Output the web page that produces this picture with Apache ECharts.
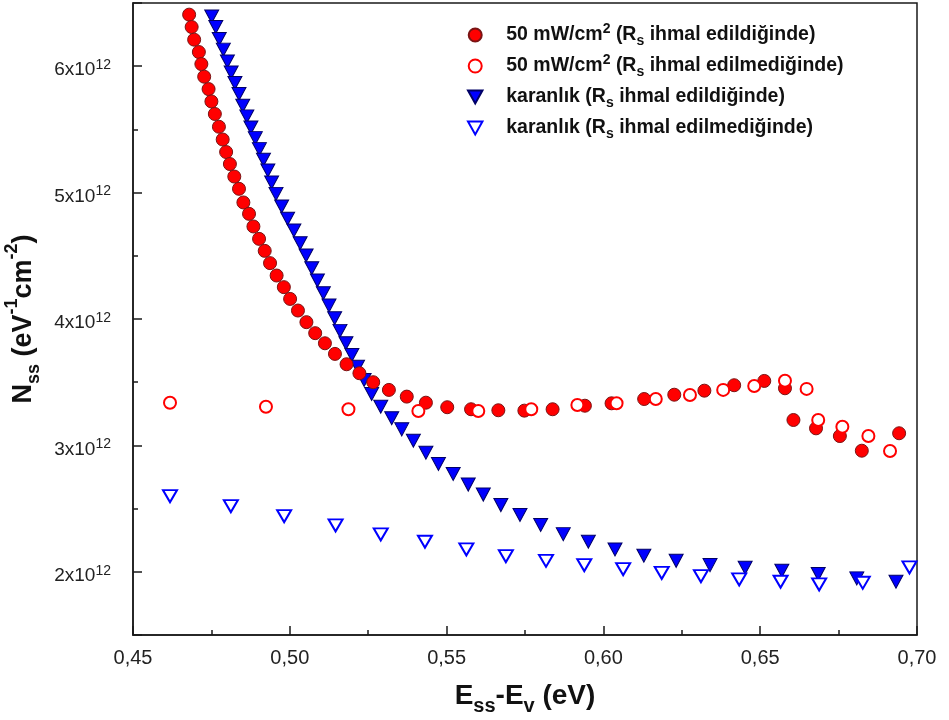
<!DOCTYPE html>
<html>
<head>
<meta charset="utf-8">
<script src="https://cdn.jsdelivr.net/npm/echarts@6/dist/echarts.min.js"></script>
<style>
  html, body { margin: 0; padding: 0; background: #fff; }
  #chart { width: 949px; height: 720px; }
</style>
</head>
<body>
<div id="chart"></div>
<script>
// Interface state density N_ss (units of 10^12 eV^-1 cm^-2) against E_ss - E_v (eV)

// 50 mW/cm2, Rs neglected
const lightRsIgnoredE = [0.4679, 0.4687, 0.4695, 0.4710, 0.4718, 0.4727, 0.4741, 0.4750, 0.4761, 0.4774,
  0.4786, 0.4797, 0.4809, 0.4823, 0.4838, 0.4852, 0.4870, 0.4884, 0.4902, 0.4920,
  0.4937, 0.4958, 0.4981, 0.5001, 0.5026, 0.5053, 0.5081, 0.5112, 0.5144, 0.5181,
  0.5222, 0.5266, 0.5316, 0.5373, 0.5434, 0.5502, 0.5578, 0.5665, 0.5748, 0.5838,
  0.5941, 0.6026, 0.6130, 0.6226, 0.6322, 0.6417, 0.6513, 0.6579, 0.6606, 0.6678,
  0.6754, 0.6824, 0.6943];
const lightRsIgnoredN = [6.408, 6.310, 6.210, 6.112, 6.017, 5.917, 5.819, 5.721, 5.622, 5.521,
  5.420, 5.321, 5.226, 5.127, 5.030, 4.922, 4.832, 4.732, 4.634, 4.539,
  4.442, 4.344, 4.252, 4.159, 4.067, 3.975, 3.888, 3.808, 3.724, 3.642,
  3.571, 3.500, 3.439, 3.386, 3.338, 3.302, 3.286, 3.278, 3.275, 3.286,
  3.314, 3.333, 3.367, 3.401, 3.433, 3.476, 3.510, 3.452, 3.201, 3.135,
  3.074, 2.958, 3.096];

// 50 mW/cm2, Rs taken into account
const lightRsIncludedE = [0.4618, 0.4924, 0.5187, 0.5410, 0.5601, 0.5770, 0.5917, 0.6042, 0.6167,
  0.6276, 0.6382, 0.6481, 0.6579, 0.6648, 0.6685, 0.6762, 0.6845, 0.6914];
const lightRsIncludedN = [3.338, 3.306, 3.286, 3.272, 3.272, 3.286, 3.320, 3.333, 3.367,
  3.399, 3.439, 3.470, 3.512, 3.447, 3.201, 3.148, 3.074, 2.956];

// dark, Rs neglected
const darkRsIgnoredE = [0.4751, 0.4764, 0.4775, 0.4788, 0.4801, 0.4813, 0.4825, 0.4838, 0.4850, 0.4863,
  0.4876, 0.4890, 0.4903, 0.4916, 0.4930, 0.4942, 0.4956, 0.4974, 0.4993, 0.5013,
  0.5033, 0.5052, 0.5070, 0.5088, 0.5107, 0.5125, 0.5143, 0.5160, 0.5179, 0.5198,
  0.5216, 0.5237, 0.5261, 0.5290, 0.5325, 0.5357, 0.5394, 0.5434, 0.5474, 0.5521,
  0.5569, 0.5617, 0.5673, 0.5734, 0.5800, 0.5872, 0.5952, 0.6037, 0.6129, 0.6232,
  0.6340, 0.6452, 0.6569, 0.6685, 0.6808, 0.6933];
const darkRsIgnoredN = [6.394, 6.310, 6.215, 6.131, 6.038, 5.951, 5.867, 5.780, 5.687, 5.603,
  5.515, 5.431, 5.344, 5.260, 5.175, 5.080, 4.990, 4.890, 4.793, 4.700,
  4.600, 4.502, 4.402, 4.304, 4.204, 4.106, 4.006, 3.906, 3.808, 3.716,
  3.623, 3.518, 3.407, 3.306, 3.215, 3.127, 3.037, 2.942, 2.853, 2.774,
  2.690, 2.611, 2.528, 2.449, 2.370, 2.298, 2.238, 2.177, 2.127, 2.087,
  2.053, 2.032, 2.008, 1.982, 1.948, 1.921];

// dark, Rs taken into account
const darkRsIncludedE = [0.4618, 0.4812, 0.4982, 0.5146, 0.5290, 0.5431, 0.5563, 0.5689, 0.5817,
  0.5939, 0.6063, 0.6186, 0.6311, 0.6433, 0.6565, 0.6688, 0.6827, 0.6976];
const darkRsIncludedN = [2.599, 2.520, 2.441, 2.367, 2.296, 2.238, 2.177, 2.124, 2.087,
  2.053, 2.021, 1.992, 1.966, 1.940, 1.921, 1.900, 1.913, 2.035];

const seriesNames = [
  '50 mW/cm2 (Rs ihmal edildiğinde)',
  '50 mW/cm2 (Rs ihmal edilmediğinde)',
  'karanlık (Rs ihmal edildiğinde)',
  'karanlık (Rs ihmal edilmediğinde)'
];
const legendRich = {};
legendRich[seriesNames[0]] = '{b|50 mW/cm}{sup|2}{b| (R}{sub|s}{b| ihmal edildiğinde)}';
legendRich[seriesNames[1]] = '{b|50 mW/cm}{sup|2}{b| (R}{sub|s}{b| ihmal edilmediğinde)}';
legendRich[seriesNames[2]] = '{b|karanlık (R}{sub|s}{b| ihmal edildiğinde)}';
legendRich[seriesNames[3]] = '{b|karanlık (R}{sub|s}{b| ihmal edilmediğinde)}';

const FONT = '"Liberation Sans", Arial, Helvetica, sans-serif';
const DOWN_TRIANGLE = 'path://M0,0L20,0L10,18Z';
const INK = '#111111';

function zip(xs, ys) {
  return xs.map(function (x, i) { return [x, ys[i]]; });
}

// rich-text fragment helpers: base text plus raised / lowered small text
function baseStyle(size, lineH, bold) {
  return { fontSize: size, fontWeight: bold ? 'bold' : 'normal', fontFamily: FONT, color: INK, lineHeight: lineH };
}
function supStyle(size, lineH, bold) {
  return { fontSize: size, fontWeight: bold ? 'bold' : 'normal', fontFamily: FONT, color: INK,
    lineHeight: size, padding: [0, 0, lineH - size, 0] };
}
function subStyle(size, lineH, bold) {
  return { fontSize: size, fontWeight: bold ? 'bold' : 'normal', fontFamily: FONT, color: INK,
    lineHeight: size, padding: [lineH - size, 0, 0, 0] };
}

const chart = echarts.init(document.getElementById('chart'), null, { renderer: 'canvas' });

const option = {
  animation: false,
  backgroundColor: '#ffffff',
  grid: {
    left: 133, right: 32, top: 3, bottom: 85,
    outerBoundsMode: 'none',
    containLabel: false,
    show: true, borderColor: '#1a1a1a', borderWidth: 1.5, backgroundColor: 'transparent'
  },
  legend: {
    orient: 'vertical',
    left: 467, top: 22,
    padding: 0,
    itemGap: 5,
    itemWidth: 52, itemHeight: 13,
    data: seriesNames,
    formatter: function (name) { return legendRich[name]; },
    textStyle: {
      fontFamily: FONT,
      color: INK,
      rich: {
        b: baseStyle(19.5, 26, true),
        sup: supStyle(14, 26, true),
        sub: subStyle(14, 26, true)
      }
    }
  },
  xAxis: {
    type: 'value',
    min: 0.45, max: 0.70, interval: 0.05,
    name: '{b|E}{sub|ss}{b|-E}{sub|v}{b| (eV)}',
    nameLocation: 'middle',
    nameGap: 41,
    nameTextStyle: {
      fontFamily: FONT,
      rich: {
        b: baseStyle(28, 40, true),
        sub: subStyle(20, 40, true)
      }
    },
    axisLine: { show: true, onZero: false, lineStyle: { color: '#1a1a1a', width: 1.5 } },
    axisTick: { show: true, inside: true, length: 9, lineStyle: { color: '#1a1a1a', width: 1.5 } },
    minorTick: { show: true, splitNumber: 2, length: 5, lineStyle: { color: '#1a1a1a', width: 1.5 } },
    splitLine: { show: false },
    axisLabel: {
      margin: 13,
      fontSize: 20,
      fontFamily: FONT,
      color: '#222',
      formatter: function (v) { return v.toFixed(2).replace('.', ','); }
    }
  },
  yAxis: {
    type: 'value',
    min: 1.5, max: 6.5, splitNumber: 5,
    name: '{b|N}{sub|ss}{b| (eV}{sup|-1}{b|cm}{sup|-2}{b|)}',
    nameLocation: 'middle',
    nameRotate: 90,
    nameGap: 88,
    nameTextStyle: {
      fontFamily: FONT,
      rich: {
        b: baseStyle(27, 40, true),
        sup: supStyle(18, 40, true),
        sub: subStyle(18, 40, true)
      }
    },
    axisLine: { show: true, onZero: false, lineStyle: { color: '#1a1a1a', width: 1.5 } },
    axisTick: { show: true, inside: true, length: 9, lineStyle: { color: '#1a1a1a', width: 1.5 } },
    minorTick: { show: true, splitNumber: 2, length: 5, lineStyle: { color: '#1a1a1a', width: 1.5 } },
    splitLine: { show: false },
    axisLabel: {
      margin: 22,
      padding: [8, 0, 0, 0],
      fontFamily: FONT,
      color: '#222',
      showMinLabel: false,
      showMaxLabel: false,
      formatter: function (v) {
        if (Math.abs(v - Math.round(v)) > 1e-6) return '';
        return '{b|' + Math.round(v) + 'x10}{s|12}';
      },
      rich: {
        b: { fontSize: 19, fontFamily: FONT, color: '#222', lineHeight: 24 },
        s: { fontSize: 14, fontFamily: FONT, color: '#222', lineHeight: 14, padding: [0, 0, 10, 0] }
      }
    }
  },
  series: [
    {
      name: seriesNames[0],
      type: 'scatter',
      z: 3,
      symbol: 'circle',
      symbolSize: 13,
      itemStyle: { color: '#ff0000', borderColor: '#7a1414', borderWidth: 1, opacity: 1 },
      data: zip(lightRsIgnoredE, lightRsIgnoredN)
    },
    {
      name: seriesNames[1],
      type: 'scatter',
      z: 4,
      symbol: 'circle',
      symbolSize: 12,
      itemStyle: { color: '#ffffff', borderColor: '#ff0000', borderWidth: 2, opacity: 1 },
      data: zip(lightRsIncludedE, lightRsIncludedN)
    },
    {
      name: seriesNames[2],
      type: 'scatter',
      z: 2,
      symbol: DOWN_TRIANGLE,
      symbolSize: [14, 13],
      itemStyle: { color: '#0000ff', borderColor: '#000066', borderWidth: 1, opacity: 1 },
      data: zip(darkRsIgnoredE, darkRsIgnoredN)
    },
    {
      name: seriesNames[3],
      type: 'scatter',
      z: 4,
      symbol: DOWN_TRIANGLE,
      symbolSize: [14, 12],
      itemStyle: { color: '#ffffff', borderColor: '#0000ff', borderWidth: 2, opacity: 1 },
      data: zip(darkRsIncludedE, darkRsIncludedN)
    }
  ]
};

chart.setOption(option);
</script>
</body>
</html>
